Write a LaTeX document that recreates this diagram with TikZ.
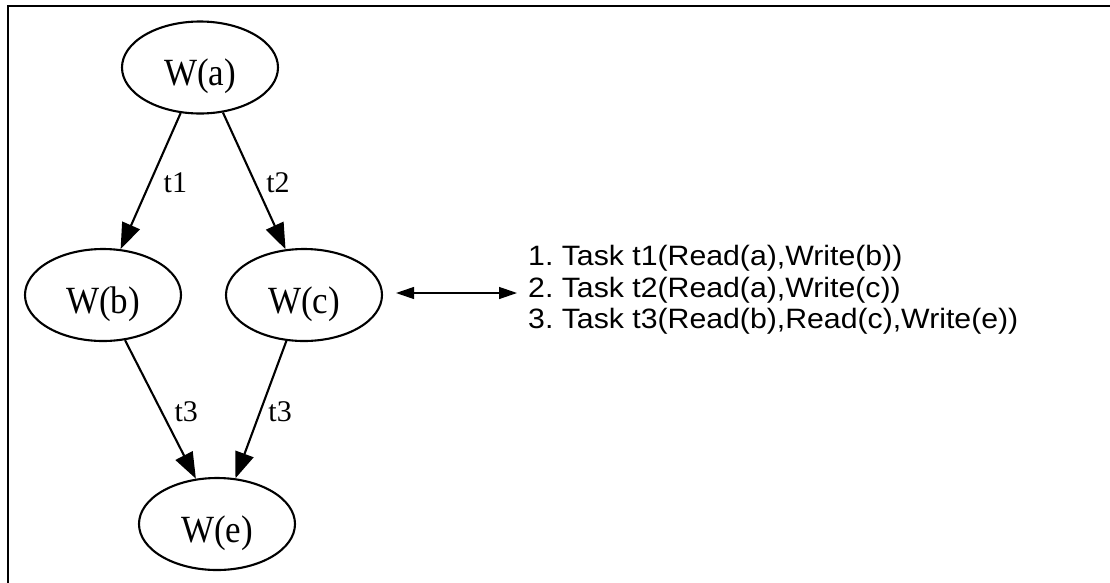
\documentclass[tikz,border=0pt]{standalone}
\usepackage{fontspec}
\setmainfont{Liberation Serif}
\newfontfamily\listfont{Liberation Sans}
\usetikzlibrary{shapes.geometric,arrows.meta}
\frenchspacing
\begin{document}
\begin{tikzpicture}[x=1pt,y=-1pt,
  state/.style={ellipse, draw, line width=2.1pt, minimum width=156pt,
    minimum height=92pt, inner sep=0pt, font=\fontsize{35}{40}\selectfont,
    text height=36pt, text depth=0pt},
  flow/.style={line width=2.1pt, -{Triangle[length=26pt,width=19pt]}},
  tag/.style={font=\fontsize{30}{32}\selectfont, inner sep=0pt, anchor=west},
  item/.style={font=\listfont\fontsize{28}{32}\selectfont, inner sep=0pt,
    anchor=base west},
  link/.style={line width=1.3pt,
    {Triangle[length=18pt,width=12pt]}-{Triangle[length=18pt,width=12pt]}}]

\useasboundingbox (0,0) rectangle (1110,582);

% outer frame
\draw[line width=2.8pt] (8,6) rectangle (1130,600);

% write nodes
\node[state] (a) at (200,67.5) {\scalebox{1}[1.1]{W(a)}};
\node[state] (b) at (103,295)  {\scalebox{1}[1.1]{W(b)}};
\node[state] (c) at (304,295)  {\scalebox{1}[1.1]{W(c)}};
\node[state] (e) at (217,524)  {\scalebox{1}[1.1]{W(e)}};

% task edges
\draw[flow] (a.-113.7) -- node[tag, xshift=12pt, yshift=-1.5pt] {t1} (b.69.3);
\draw[flow] (a.-63.2)  -- node[tag, xshift=11pt, yshift=-1.5pt] {t2} (c.112.9);
\draw[flow] (b.-64.9)  -- node[tag, xshift=13pt, yshift=-2pt] {t3} (e.115.6);
\draw[flow] (c.-111)   -- node[tag, xshift=6.5pt, yshift=-2pt] {t3} (e.68.6);

% task list
\node[item] (l1) at (528,265.5) {\scalebox{1.08}[1]{1. Task t1(Read(a),Write(b))}};
\node[item] (l2) at (528,297)   {\scalebox{1.08}[1]{2. Task t2(Read(a),Write(c))}};
\node[item] (l3) at (528,328.5) {\scalebox{1.08}[1]{3. Task t3(Read(b),Read(c),Write(e))}};

% link between graph and list
\draw[link, shorten <=13pt, shorten >=11pt]
  ([yshift=2pt]c.east) -- ([yshift=2pt]c.east -| l2.west);
\end{tikzpicture}
\end{document}
